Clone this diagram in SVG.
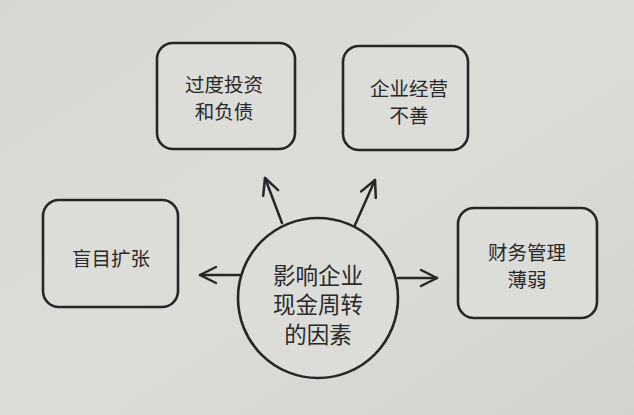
<svg xmlns="http://www.w3.org/2000/svg" width="634" height="415" viewBox="0 0 634 415">
<defs>
<style>
.box{fill:#dcdcd8;stroke:#262626;stroke-width:2.6}
.t{font-family:"Noto Sans CJK SC","Noto Sans",sans-serif;fill:#2a2a2a;text-anchor:middle;dominant-baseline:central}
.b{font-size:19.5px}
.c{font-size:22.5px}
.ln{fill:none;stroke:#262626;stroke-width:2.5;stroke-linecap:round;stroke-linejoin:round}
</style>
<linearGradient id="bg" x1="0" y1="0" x2="1" y2="1">
<stop offset="0" stop-color="#d6d6d3"/>
<stop offset="0.5" stop-color="#dcdcd9"/>
<stop offset="1" stop-color="#d2d2cf"/>
</linearGradient>
<marker id="ah" viewBox="0 0 20 20" refX="18" refY="10" markerWidth="20" markerHeight="20" markerUnits="userSpaceOnUse" orient="auto">
<path d="M2,2 L18,10 L2,18" fill="none" stroke="#262626" stroke-width="2.5" stroke-linecap="round" stroke-linejoin="round"/>
</marker>
</defs>
<rect width="634" height="415" fill="url(#bg)"/>
<g id="connectors">
<line class="ln" x1="282" y1="223" x2="265" y2="178" marker-end="url(#ah)"/>
<line class="ln" x1="355" y1="225" x2="375" y2="180" marker-end="url(#ah)"/>
<line class="ln" x1="240" y1="275" x2="200" y2="275" marker-end="url(#ah)"/>
<line class="ln" x1="398" y1="278" x2="437" y2="278" marker-end="url(#ah)"/>
</g>
<g id="node-overinvest">
<rect class="box" x="157" y="43" width="138" height="106" rx="16"/>
<text class="t b" x="224" y="83.5">过度投资</text>
<text class="t b" x="224" y="110.5">和负债</text>
</g>
<g id="node-poor-operation">
<rect class="box" x="343" y="46" width="125" height="104" rx="16"/>
<text class="t b" x="409" y="87.5">企业经营</text>
<text class="t b" x="409" y="114.5">不善</text>
</g>
<g id="node-blind-expansion">
<rect class="box" x="43" y="200" width="135" height="107" rx="16"/>
<text class="t b" x="111" y="257">盲目扩张</text>
</g>
<g id="node-weak-finance">
<rect class="box" x="458" y="208" width="139" height="110" rx="16"/>
<text class="t b" x="527" y="251.5">财务管理</text>
<text class="t b" x="527" y="278.5">薄弱</text>
</g>
<g id="node-center">
<circle class="box" cx="318" cy="298" r="80"/>
<text class="t c" x="318" y="273.5">影响企业</text>
<text class="t c" x="318" y="303">现金周转</text>
<text class="t c" x="318" y="332.5">的因素</text>
</g>
</svg>
